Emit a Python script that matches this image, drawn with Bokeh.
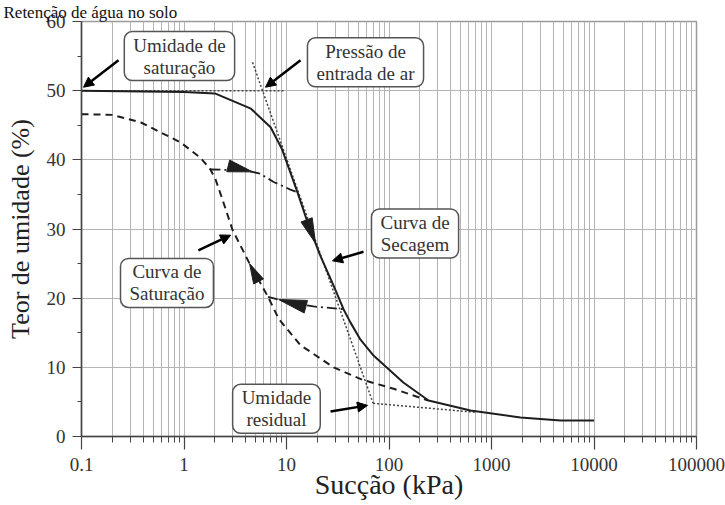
import numpy as np
from bokeh.plotting import figure
from bokeh.models import Label, Arrow, NormalHead, FixedTicker, Range1d
from bokeh.embed import file_html
from bokeh.resources import INLINE

# Curva de secagem (drying branch), suction in kPa vs water content in %
secagem_kpa = [0.1, 1.0, 2.0, 4.5, 7.0, 9.0, 12.8, 16.1, 21.3, 28.8, 36.0, 42.0,
               52.7, 70.6, 138, 243, 624, 1918, 4710, 10000]
secagem_w = [50.0, 49.8, 49.6, 47.4, 44.7, 41.6, 35.3, 30.9, 26.2, 21.8, 18.4, 16.5,
             14.0, 11.7, 7.8, 5.2, 3.76, 2.75, 2.3, 2.3]

# Curva de saturação (wetting branch)
saturacao_kpa = [0.1, 0.2, 0.38, 0.93, 1.45, 1.81, 2.03, 2.43, 2.97, 4.36, 6.6, 8.4,
                 13.7, 28.8, 55, 111, 240]
saturacao_w = [46.6, 46.5, 45.4, 42.5, 40.3, 38.6, 37.2, 33.8, 29.9, 25.0, 20.2, 17.0,
               13.2, 10.0, 8.2, 6.9, 5.2]

# Scanning curves between the two branches
varredura_sup_kpa = [1.81, 4.0, 5.5, 7.5, 10.9, 12.8]
varredura_sup_w = [38.6, 38.5, 38.0, 36.8, 35.7, 35.3]
varredura_inf_kpa = [6.6, 10.0, 18.3, 36.0]
varredura_inf_w = [20.2, 19.5, 18.8, 18.4]

# Construction (tangent) lines
tang_sat_kpa = [0.1, 9.5]
tang_sat_w = [50.0, 50.0]
tang_ent_kpa = [4.66, 70.0]
tang_ent_w = [54.1, 4.8]
tang_res_kpa = [70.0, 700.0]
tang_res_w = [4.8, 3.5]

# Axis ticks
x_ticks = [0.1, 1, 10, 100, 1000, 10000, 100000]
x_tick_labels = ["0.1", "1", "10", "100", "1000", "10000", "100000"]
y_ticks = [0, 10, 20, 30, 40, 50, 60]
y_minor = [5, 15, 25, 35, 45, 55]

SERIF = "Liberation Serif"
FRAME_W, FRAME_H = 615, 415
X_DECADES = 6.0
Y_SPAN = 60.0

p = figure(
    title="Retenção de água no solo",
    x_axis_type="log",
    frame_width=FRAME_W, frame_height=FRAME_H,
    min_border_left=81, min_border_right=29, min_border_top=19, min_border_bottom=71,
    x_range=Range1d(0.1, 100000), y_range=Range1d(0, 60),
    output_backend="svg", toolbar_location=None,
    background_fill_color="white", border_fill_color="white",
)
p.title.text_font = SERIF
p.title.text_font_size = "17px"
p.title.text_font_style = "normal"
p.title.text_color = "#111111"
p.title.align = "left"
p.title.standoff = 0
p.title.offset = -78

p.outline_line_color = "#9a9a9a"
p.outline_line_width = 1.5

minor_x = [m * 10.0 ** k for k in range(-1, 5) for m in range(2, 10)]
xt = FixedTicker(ticks=x_ticks, minor_ticks=minor_x)
yt = FixedTicker(ticks=y_ticks, minor_ticks=y_minor)
p.xaxis.ticker = xt
p.yaxis.ticker = yt
p.xgrid.ticker = xt
p.ygrid.ticker = FixedTicker(ticks=y_ticks)

p.xaxis.major_label_overrides = {t: s for t, s in zip(x_ticks, x_tick_labels)}

grid_col = "#b4b4b4"
p.xgrid.grid_line_color = grid_col
p.xgrid.minor_grid_line_color = grid_col
p.xgrid.grid_line_width = 1
p.xgrid.minor_grid_line_width = 1
p.ygrid.grid_line_color = grid_col
p.ygrid.grid_line_width = 1

for ax in (p.xaxis, p.yaxis):
    ax.axis_line_color = "#444444"
    ax.axis_line_width = 1.5
    ax.major_tick_line_color = "#444444"
    ax.minor_tick_line_color = "#444444"
    ax.major_tick_line_width = 1.2
    ax.minor_tick_line_width = 1
    ax.major_tick_in = 0
    ax.minor_tick_in = 0
    ax.major_label_text_font = SERIF
    ax.major_label_text_font_size = "19px"
    ax.major_label_text_color = "#333333"
    ax.axis_label_text_font = SERIF
    ax.axis_label_text_font_style = "normal"
    ax.axis_label_text_color = "#222222"

p.xaxis.major_tick_out = 13
p.xaxis.minor_tick_out = 6
p.xaxis.major_label_standoff = 8
p.xaxis.axis_label = "Sucção (kPa)"
p.xaxis.axis_label_text_font_size = "28px"
p.xaxis.axis_label_standoff = -5

p.yaxis.major_tick_out = 9
p.yaxis.minor_tick_out = 4
p.yaxis.major_label_standoff = 7
p.yaxis.axis_label = "Teor de umidade (%)"
p.yaxis.axis_label_text_font_size = "26px"
p.yaxis.axis_label_standoff = 9

# Tangent construction lines (dotted)
dot = dict(line_color="#444444", line_width=1.5, line_dash="2 2")
p.line(tang_sat_kpa, tang_sat_w, **dot)
p.line(tang_ent_kpa, tang_ent_w, **dot)
p.line(tang_res_kpa, tang_res_w, **dot)

# Main curves
ink = "#1e1e1e"
p.line(saturacao_kpa, saturacao_w, line_color=ink, line_width=2, line_dash="7 5")
p.line(varredura_sup_kpa, varredura_sup_w, line_color=ink, line_width=1.8, line_dash="10 4 2 4")
p.line(varredura_inf_kpa, varredura_inf_w, line_color=ink, line_width=1.8, line_dash="10 4 2 4")
p.line(secagem_kpa, secagem_w, line_color=ink, line_width=2)

# Direction arrowheads drawn along the curves
dec_px = FRAME_W / X_DECADES
unit_px = FRAME_H / Y_SPAN


def to_px(k, w):
    return (np.log10(k) + 1.0) * dec_px, w * unit_px


def from_px(px, py):
    return 10.0 ** (px / dec_px - 1.0), py / unit_px


def arrowhead(kpa, w, tip, forward, length, width):
    lk = np.log10(kpa)
    t = np.log10(tip)
    d = 0.03 * forward
    tx, ty = to_px(tip, np.interp(t, lk, w))
    ax_, ay_ = to_px(10 ** (t + d), np.interp(t + d, lk, w))
    ux, uy = ax_ - tx, ay_ - ty
    n = np.hypot(ux, uy)
    ux, uy = ux / n, uy / n
    bx, by = tx - length * ux, ty - length * uy
    nx, ny = -uy, ux
    pts = [(tx, ty), (bx + nx * width / 2, by + ny * width / 2), (bx - nx * width / 2, by - ny * width / 2)]
    conv = [from_px(a, b) for a, b in pts]
    return [c[0] for c in conv], [c[1] for c in conv]


heads = [
    arrowhead(secagem_kpa, secagem_w, 19.2, +1, 25, 12),
    arrowhead(saturacao_kpa, saturacao_w, 4.36, -1, 20, 11),
    arrowhead(varredura_sup_kpa, varredura_sup_w, 4.66, +1, 25, 12),
    arrowhead(varredura_inf_kpa, varredura_inf_w, 8.4, -1, 28, 13),
]
p.patches([h[0] for h in heads], [h[1] for h in heads], fill_color=ink, line_color=ink, line_width=1)

# Callout boxes and their pointer arrows
callouts = [
    ("Umidade de\nsaturação", 0.903, 55.0, (0.2296, 54.4), (0.1046, 50.5)),
    ("Pressão de\nentrada de ar", 59.0, 54.1, (13.7, 54.4), (6.24, 50.5)),
    ("Curva de\nSecagem", 179.5, 29.35, (56.4, 26.7), (28.1, 25.4)),
    ("Curva de\nSaturação", 0.682, 22.2, (1.38, 26.9), (2.85, 29.1)),
    ("Umidade\nresidual", 7.98, 4.0, (26.9, 3.6), (61.7, 4.5)),
]
for text, cx, cy, start, end in callouts:
    p.add_layout(Arrow(
        end=NormalHead(size=10, fill_color="black", line_color="black", line_width=1),
        x_start=start[0], y_start=start[1], x_end=end[0], y_end=end[1],
        line_color="black", line_width=2.5,
    ))
    p.add_layout(Label(
        x=cx, y=cy, text=text, text_align="center", text_baseline="middle",
        text_font=SERIF, text_font_size="19px", text_color="#333333",
        text_line_height=1.05,
        background_fill_color="white", border_line_color="#555555",
        border_line_width=1.5, border_radius=8, padding=(9, 3),
    ))

open("out.html", "w").write(file_html(p, INLINE))
